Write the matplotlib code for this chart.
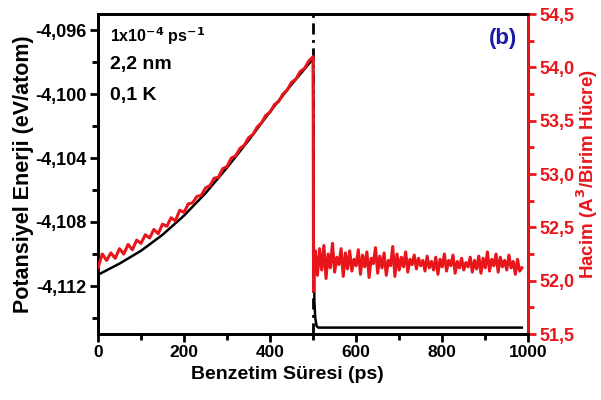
import matplotlib
matplotlib.use("Agg")
import matplotlib.pyplot as plt
import numpy as np

plt.rcParams['font.family'] = ['Liberation Sans', 'DejaVu Sans']
plt.rcParams['font.weight'] = 'bold'

# potential energy (left axis), black
t_pe = [0, 50, 100, 150, 200, 250, 300, 350, 400, 450, 500,
        501, 503, 505, 508, 512, 520, 985]
pe = [-4.1113, -4.1106, -4.1098, -4.1088, -4.1076, -4.1062, -4.1046, -4.1029,
      -4.1011, -4.0994, -4.0978,
      -4.1080, -4.1130, -4.1140, -4.1145, -4.1146, -4.1146, -4.1146]

# volume (right axis), red - heating part
t_vol_a = list(range(0, 501, 10))
vol_a = [52.12, 52.25, 52.19, 52.26, 52.21, 52.30, 52.25, 52.34, 52.29, 52.38,
         52.35, 52.43, 52.40, 52.48, 52.44, 52.53, 52.51, 52.59, 52.56, 52.66,
         52.64, 52.72, 52.73, 52.79, 52.80, 52.87, 52.89, 52.96, 52.97, 53.05,
         53.07, 53.15, 53.17, 53.24, 53.27, 53.34, 53.37, 53.44, 53.48, 53.55,
         53.58, 53.65, 53.68, 53.75, 53.79, 53.86, 53.89, 53.96, 53.99, 54.06,
         54.10]

# volume after the drop
t_vol_b = [501, 503] + list(range(505, 986, 5))
vol_b = [51.90, 52.15,
         52.28, 52.05, 52.30, 52.10, 52.33, 52.02, 52.25, 52.12, 52.35, 52.08,
         52.22, 52.15, 52.30, 52.04, 52.26, 52.11, 52.28, 52.09, 52.20, 52.14,
         52.29, 52.06, 52.24, 52.13, 52.27, 52.03, 52.21, 52.16, 52.31, 52.07,
         52.23, 52.12, 52.26, 52.05, 52.19, 52.14, 52.32, 52.04, 52.25, 52.10,
         52.22, 52.13, 52.27, 52.08, 52.20, 52.15, 52.24, 52.11, 52.21, 52.14,
         52.19, 52.09, 52.23, 52.12, 52.18, 52.10, 52.22, 52.06, 52.20, 52.13,
         52.25, 52.09, 52.19, 52.14, 52.24, 52.07, 52.18, 52.12, 52.21, 52.10,
         52.17, 52.13, 52.22, 52.08, 52.19, 52.11, 52.23, 52.07, 52.21, 52.12,
         52.27, 52.09, 52.20, 52.14, 52.25, 52.08, 52.22, 52.13, 52.19, 52.10,
         52.24, 52.12, 52.18, 52.06, 52.20, 52.09, 52.12]

x_ticks = [0, 200, 400, 600, 800, 1000]
pe_ticks = [-4.112, -4.108, -4.104, -4.100, -4.096]
pe_labels = ['-4,112', '-4,108', '-4,104', '-4,100', '-4,096']
vol_ticks = [51.5, 52.0, 52.5, 53.0, 53.5, 54.0, 54.5]
vol_labels = ['51,5', '52,0', '52,5', '53,0', '53,5', '54,0', '54,5']

red = '#e8161b'

fig = plt.figure(figsize=(6.01, 4.0), dpi=100)
ax = fig.add_axes([0.163, 0.165, 0.716, 0.80])
ax2 = ax.twinx()

ax2.plot(t_vol_a + t_vol_b, vol_a + vol_b, color=red, lw=2.2, zorder=3)
ax.plot(t_pe, pe, color='black', lw=1.8, zorder=2)
ax.axvline(500, color='black', lw=2, ls=(0, (4, 2, 1, 2)))

ax.set_xlim(0, 1000)
ax.set_ylim(-4.115, -4.095)
ax2.set_ylim(51.5, 54.5)

ax.set_xticks(x_ticks)
ax.set_xticks(np.arange(100, 1000, 200), minor=True)
ax.set_yticks(pe_ticks)
ax.set_yticklabels(pe_labels)
ax.set_yticks([-4.114, -4.110, -4.106, -4.102, -4.098], minor=True)
ax2.set_yticks(vol_ticks)
ax2.set_yticklabels(vol_labels)
ax2.set_yticks([51.75, 52.25, 52.75, 53.25, 53.75, 54.25], minor=True)

for a in (ax, ax2):
    for s in a.spines.values():
        s.set_linewidth(2)
ax2.spines['right'].set_color(red)

ax.tick_params(axis='both', which='major', length=6, width=2, pad=2)
ax.tick_params(axis='x', which='major', labelsize=12.5)
ax.tick_params(axis='y', which='major', labelsize=13)
ax.tick_params(axis='both', which='minor', length=4, width=2)
ax2.tick_params(axis='y', which='major', length=6, width=2, labelsize=13,
                colors=red, pad=2)
ax2.tick_params(axis='y', which='minor', length=4, width=2, colors=red)

ax.set_xlabel('Benzetim Süresi (ps)', fontsize=14, fontweight='bold', labelpad=1)
ax.xaxis.set_label_coords(0.44, -0.1)
ax.set_ylabel('Potansiyel Enerji (eV/atom)', fontsize=15.5, fontweight='bold',
              labelpad=1)
ax2.set_ylabel('Hacim (A$^{\\mathbf{3}}$/Birim Hücre)', fontsize=13.5,
               fontweight='bold', color=red, labelpad=0)

ax.text(0.028, 0.966, '1x10$^{\\mathbf{-4}}$ ps$^{\\mathbf{-1}}$', transform=ax.transAxes,
        fontsize=11.5, fontweight='bold', va='top')
ax.text(0.028, 0.87, '2,2 nm', transform=ax.transAxes, fontsize=14,
        fontweight='bold', va='top')
ax.text(0.028, 0.772, '0,1 K', transform=ax.transAxes, fontsize=14,
        fontweight='bold', va='top')
ax.text(0.975, 0.955, '(b)', transform=ax.transAxes, fontsize=16,
        fontweight='bold', color='#1a1aa8', ha='right', va='top')

fig.savefig('out.png', dpi=100)
